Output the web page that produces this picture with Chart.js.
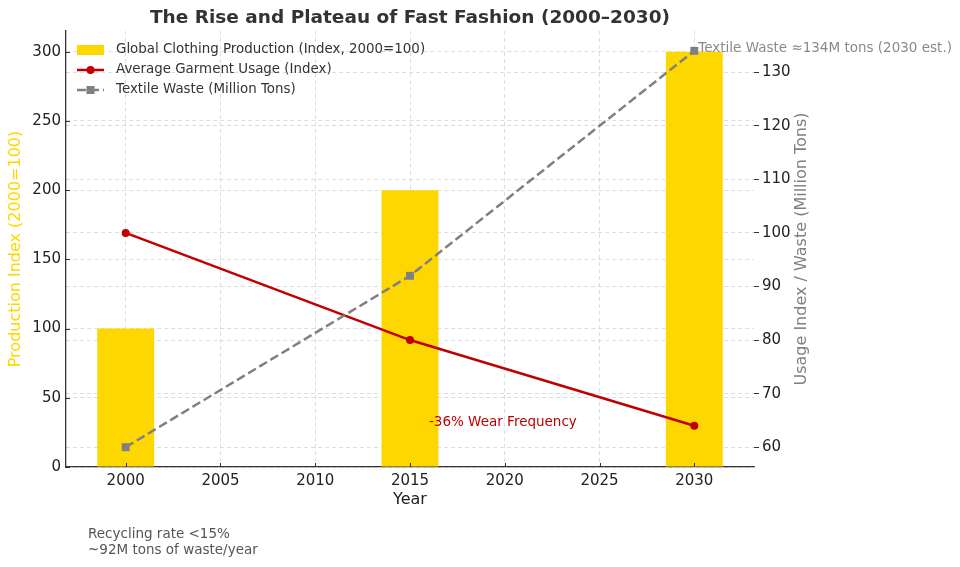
<!DOCTYPE html>
<html>
<head>
<meta charset="utf-8">
<script src="https://cdn.jsdelivr.net/npm/chart.js@4"></script>
<style>
  html, body { margin: 0; padding: 0; background: #fff; }
  #wrap { width: 960px; height: 567px; }
</style>
</head>
<body>
<div id="wrap"><canvas id="chart" width="960" height="567"></canvas></div>
<script>
// Data
var years = [2000, 2015, 2030];
var production = [100, 200, 300];   // index, 2000 = 100
var usage = [100, 80, 64];          // average garment usage index
var waste = [60, 92, 134];          // textile waste, million tons

var xTicks = [2000, 2005, 2010, 2015, 2020, 2025, 2030];
var leftTicks = [0, 50, 100, 150, 200, 250, 300];
var rightTicks = [60, 70, 80, 90, 100, 110, 120, 130];

var FONT = '"DejaVu Sans", "Liberation Sans", sans-serif';
var GOLD = '#FFD700', RED = '#C00000', GREY = '#808080';
var GRID = '#d4d4d4';

function points(vals) {
	return years.map(function(yr, i) { return { x: yr, y: vals[i] }; });
}
function useTicks(list) {
	return function(scale) {
		scale.ticks = list.map(function(v) { return { value: v }; });
	};
}

// Title, legend, inward ticks, right axis title and notes
var extras = {
	id: 'extras',
	afterDraw: function(chart) {
		var ctx = chart.ctx, area = chart.chartArea;
		var sx = chart.scales.x, sy = chart.scales.y, sy2 = chart.scales.y2;
		ctx.save();

		// inward tick marks on the left and bottom spines
		ctx.strokeStyle = '#333';
		ctx.lineWidth = 1;
		ctx.beginPath();
		xTicks.forEach(function(v) {
			var px = Math.round(sx.getPixelForValue(v)) + 0.5;
			ctx.moveTo(px, area.bottom); ctx.lineTo(px, area.bottom - 4);
		});
		leftTicks.forEach(function(v) {
			var py = Math.round(sy.getPixelForValue(v)) + 0.5;
			ctx.moveTo(area.left, py); ctx.lineTo(area.left + 4, py);
		});
		ctx.stroke();

		ctx.fillStyle = '#333';
		ctx.font = 'bold 18.5px ' + FONT;
		ctx.textAlign = 'center';
		ctx.textBaseline = 'middle';
		ctx.fillText('The Rise and Plateau of Fast Fashion (2000\u20132030)', (area.left + area.right) / 2, 18);

		// legend
		var lx = area.left + 11, tx = area.left + 50;
		ctx.fillStyle = GOLD;
		ctx.fillRect(lx, 45, 27, 10);

		ctx.strokeStyle = RED;
		ctx.lineWidth = 2.5;
		ctx.beginPath(); ctx.moveTo(lx, 70); ctx.lineTo(lx + 27, 70); ctx.stroke();
		ctx.fillStyle = RED;
		ctx.beginPath(); ctx.arc(lx + 13.5, 70, 4, 0, Math.PI * 2); ctx.fill();

		ctx.strokeStyle = GREY;
		ctx.setLineDash([9, 4]);
		ctx.beginPath(); ctx.moveTo(lx, 90); ctx.lineTo(lx + 27, 90); ctx.stroke();
		ctx.setLineDash([]);
		ctx.fillStyle = GREY;
		ctx.fillRect(lx + 13.5 - 4, 86, 8, 8);

		ctx.fillStyle = '#333';
		ctx.font = '13.4px ' + FONT;
		ctx.textAlign = 'left';
		ctx.fillText('Global Clothing Production (Index, 2000=100)', tx, 50);
		ctx.fillText('Average Garment Usage (Index)', tx, 70);
		ctx.fillText('Textile Waste (Million Tons)', tx, 90);

		// right axis title, reading bottom to top
		ctx.save();
		ctx.translate(sy2.left + 48, (area.top + area.bottom) / 2);
		ctx.rotate(-Math.PI / 2);
		ctx.font = '16px ' + FONT;
		ctx.fillStyle = GREY;
		ctx.textAlign = 'center';
		ctx.fillText('Usage Index / Waste (Million Tons)', 0, 0);
		ctx.restore();

		// annotations
		ctx.font = '13.5px ' + FONT;
		ctx.textAlign = 'left';
		ctx.fillStyle = '#8a8a8a';
		ctx.fillText('Textile Waste \u2248134M tons (2030 est.)', sx.getPixelForValue(2030) + 4, sy2.getPixelForValue(134) - 2);
		ctx.fillStyle = RED;
		ctx.textBaseline = 'alphabetic';
		ctx.fillText('-36% Wear Frequency', sx.getPixelForValue(2016), sy2.getPixelForValue(64));

		ctx.fillStyle = '#555';
		ctx.textBaseline = 'middle';
		ctx.fillText('Recycling rate <15%', 88, 534);
		ctx.fillText('~92M tons of waste/year', 88, 550);

		ctx.restore();
	}
};

var tickFont = { family: FONT, size: 15 };

new Chart(document.getElementById('chart'), {
	type: 'bar',
	data: {
		datasets: [
			{
				type: 'bar',
				label: 'Global Clothing Production (Index, 2000=100)',
				data: points(production),
				backgroundColor: GOLD,
				borderWidth: 0,
				categoryPercentage: 1,
				barPercentage: 0.6,
				yAxisID: 'y',
				order: 2
			},
			{
				type: 'line',
				label: 'Average Garment Usage (Index)',
				data: points(usage),
				borderColor: RED,
				backgroundColor: RED,
				borderWidth: 2.5,
				pointRadius: 4,
				pointBorderWidth: 0,
				fill: false,
				tension: 0,
				yAxisID: 'y2',
				order: 1
			},
			{
				type: 'line',
				label: 'Textile Waste (Million Tons)',
				data: points(waste),
				borderColor: GREY,
				backgroundColor: GREY,
				borderWidth: 2.5,
				borderDash: [9, 4],
				pointStyle: 'rect',
				pointRadius: 5.6,
				pointBorderWidth: 0,
				fill: false,
				tension: 0,
				yAxisID: 'y2',
				order: 0
			}
		]
	},
	options: {
		responsive: false,
		animation: false,
		devicePixelRatio: 1,
		layout: { padding: { top: 31, left: 0, right: 0, bottom: 0 } },
		plugins: {
			legend: { display: false },
			title: { display: false },
			tooltip: { enabled: false }
		},
		scales: {
			x: {
				type: 'linear',
				min: 1996.85,
				max: 2033.15,
				offset: false,
				afterBuildTicks: useTicks(xTicks),
				afterFit: function(s) { s.height = 100; },
				ticks: { font: tickFont, color: '#222', padding: 5, maxRotation: 0, callback: function(v) { return String(v); } },
				grid: { offset: false, color: GRID, lineWidth: 0.8, drawTicks: false },
				border: { display: true, color: '#333', width: 1.3, dash: [4, 3] },
				title: { display: true, text: 'Year', color: '#222', font: { family: FONT, size: 16 }, padding: { top: 0, bottom: 58 } }
			},
			y: {
				type: 'linear',
				position: 'left',
				min: 0,
				max: 315,
				afterBuildTicks: useTicks(leftTicks),
				afterFit: function(s) { s.width = 66; },
				ticks: { font: tickFont, color: '#222', padding: 5 },
				grid: { color: GRID, lineWidth: 0.8, drawTicks: false },
				border: { display: true, color: '#333', width: 1.3, dash: [4, 3] },
				title: { display: true, text: 'Production Index (2000=100)', color: GOLD, font: { family: FONT, size: 16 }, padding: { top: 6, bottom: 0 } }
			},
			y2: {
				type: 'linear',
				position: 'right',
				min: 56.3,
				max: 137.7,
				afterBuildTicks: useTicks(rightTicks),
				afterFit: function(s) { s.width = 206; },
				ticks: { font: tickFont, color: '#222', padding: 3 },
				grid: { drawOnChartArea: true, color: GRID, lineWidth: 0.8, tickColor: '#333', tickLength: 5, tickWidth: 1 },
				border: { display: false, dash: [4, 3] }
			}
		}
	},
	plugins: [extras]
});
</script>
</body>
</html>
